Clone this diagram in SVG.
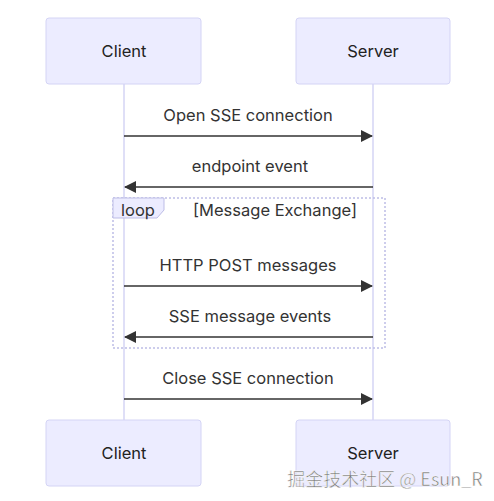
<svg xmlns="http://www.w3.org/2000/svg" width="494" height="501" viewBox="0 0 494 501">
<defs>
<style>
.actor{fill:#ECECFF;stroke:#D4D4F5;stroke-width:1}
.life{stroke:#D4D4F5;stroke-width:1.5}
.msg{stroke:#333;stroke-width:1.5;fill:none}
.t{font-family:Inter,"Liberation Sans",sans-serif;font-size:16.5px;fill:#333;text-anchor:middle}
.a{font-family:Inter,"Liberation Sans",sans-serif;font-size:16.5px;fill:#222;text-anchor:middle}
</style>
<marker id="ah" viewBox="0 0 12 12" refX="11" refY="6" markerWidth="12" markerHeight="12" markerUnits="userSpaceOnUse" orient="auto">
<path d="M0,0 L12,6 L0,12 z" fill="#333"/>
</marker>
</defs>
<rect width="494" height="501" fill="#fff"/>
<g id="lifelines">
<line class="life" x1="124" y1="84" x2="124" y2="420"/>
<line class="life" x1="373" y1="84" x2="373" y2="420"/>
</g>
<g id="loop">
<rect x="113" y="198" width="272" height="150" fill="none" stroke="#BDBDE6" stroke-width="1.5" stroke-dasharray="2,2"/>
<path d="M113,198 H164 V210 L157,218 H113 Z" fill="#ECECFF" stroke="#BDBDE6" stroke-width="1"/>
<text class="t" x="138" y="216">loop</text>
<text class="t" x="275" y="216">[Message Exchange]</text>
</g>
<g id="client-top"><rect class="actor" x="46" y="18" width="155" height="66" rx="3"/><text class="a" x="124" y="57">Client</text></g>
<g id="server-top"><rect class="actor" x="296" y="18" width="154" height="66" rx="3"/><text class="a" x="373" y="57">Server</text></g>
<g id="client-bottom"><rect class="actor" x="46" y="420" width="155" height="66" rx="3"/><text class="a" x="124" y="459">Client</text></g>
<g id="server-bottom"><rect class="actor" x="296" y="420" width="154" height="66" rx="3"/><text class="a" x="373" y="459">Server</text></g>
<g id="connectors">
<line class="msg" x1="124" y1="136" x2="372" y2="136" marker-end="url(#ah)"/>
<line class="msg" x1="373" y1="187" x2="125" y2="187" marker-end="url(#ah)"/>
<line class="msg" x1="124" y1="286" x2="372" y2="286" marker-end="url(#ah)"/>
<line class="msg" x1="373" y1="337" x2="125" y2="337" marker-end="url(#ah)"/>
<line class="msg" x1="124" y1="399" x2="372" y2="399" marker-end="url(#ah)"/>
<text class="t" x="248" y="121">Open SSE connection</text>
<text class="t" x="250" y="172">endpoint event</text>
<text class="t" x="248" y="271">HTTP POST messages</text>
<text class="t" x="250" y="322">SSE message events</text>
<text class="t" x="248" y="384">Close SSE connection</text>
</g>
<text x="385" y="486" font-family="'Noto Sans CJK SC','Noto Sans',sans-serif" font-size="18" fill="#777" stroke="#fff" stroke-width="0.5" text-anchor="middle">掘金技术社区 @ Esun_R</text>
</svg>
